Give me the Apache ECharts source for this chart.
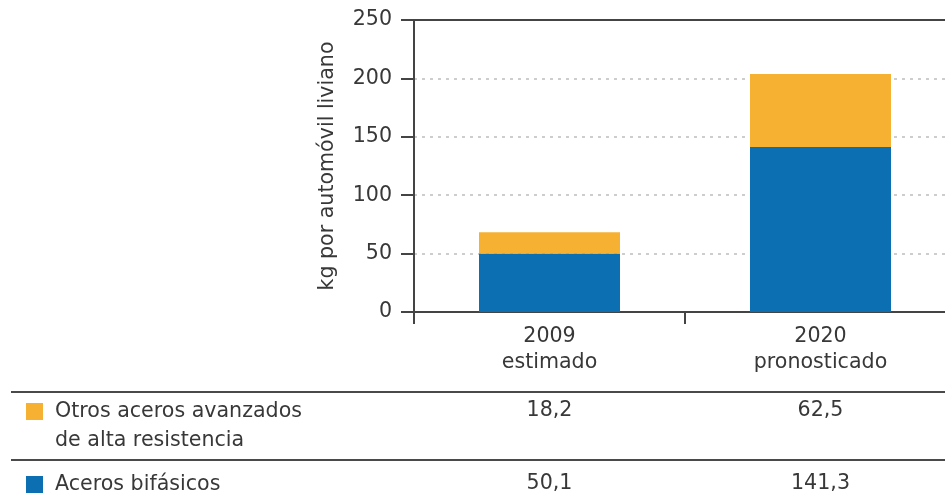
<!DOCTYPE html>
<html>
<head>
<meta charset="utf-8">
<script src="https://cdn.jsdelivr.net/npm/echarts@6/dist/echarts.min.js"></script>
<style>
  html, body { margin: 0; padding: 0; background: #fff; }
  #chart { width: 945px; height: 501px; }
</style>
</head>
<body>
<div id="chart"></div>
<script>
// Acero de alta resistencia por automóvil liviano
const categories = ['2009\nestimado', '2020\npronosticado'];
const bifasicos = [50.1, 141.3];
const otrosAvanzados = [18.2, 62.5];
const seriesNames = ['Aceros bifásicos', 'Otros aceros avanzados\nde alta resistencia'];
const yTicks = [0, 50, 100, 150, 200, 250];

const BLUE = '#0c6fb1';
const ORANGE = '#f6b133';
const INK = '#383838';
const FONT = 'DejaVu Sans, sans-serif';
const FS = 20.6;

const chart = echarts.init(document.getElementById('chart'), null, { renderer: 'canvas' });

const fmt = v => v.toFixed(1).replace('.', ',');

chart.setOption({
  animation: false,
  grid: { left: 414, top: 20, right: -11, bottom: 189, containLabel: false, outerBoundsMode: 'none' },
  xAxis: [{
    type: 'category',
    data: categories,
    axisLine: { lineStyle: { color: '#444', width: 2 } },
    axisTick: { show: true, length: 12, alignWithLabel: false, lineStyle: { color: '#444', width: 2 } },
    axisLabel: { color: INK, fontSize: FS, lineHeight: 26, margin: 12, fontFamily: FONT }
  }, {
    type: 'category',
    data: categories,
    position: 'top',
    axisLine: { show: true, lineStyle: { color: '#444', width: 2 } },
    axisTick: { show: false },
    axisLabel: { show: false }
  }],
  yAxis: {
    type: 'value',
    min: yTicks[0],
    max: yTicks[yTicks.length - 1],
    interval: 50,
    name: 'kg por automóvil liviano',
    nameLocation: 'middle',
    nameGap: 76,
    nameTextStyle: { color: INK, fontSize: FS, fontFamily: FONT },
    axisLine: { show: true, lineStyle: { color: '#444', width: 2 } },
    axisTick: { show: true, length: 13, lineStyle: { color: '#444', width: 2 } },
    axisLabel: { color: INK, fontSize: FS, margin: 22, fontFamily: FONT },
    splitLine: { show: true, lineStyle: { color: '#cdcdcd', width: 2, type: [3, 5] } }
  },
  series: [{
    name: seriesNames[0],
    type: 'bar',
    stack: 'acero',
    data: bifasicos,
    barWidth: 141,
    itemStyle: { color: BLUE }
  }, {
    name: seriesNames[1],
    type: 'bar',
    stack: 'acero',
    data: otrosAvanzados,
    barWidth: 141,
    itemStyle: { color: ORANGE }
  }]
});

// Data table below the chart, with values centred under each category
const cx = categories.map((c, i) => chart.convertToPixel({ xAxisIndex: 0 }, i));
const rows = [
  { name: seriesNames[1], color: ORANGE, values: otrosAvanzados, y: 411 },
  { name: seriesNames[0], color: BLUE, values: bifasicos, y: 484 }
];
const textStyle = { fill: INK, fontSize: FS, fontFamily: FONT };
const graphic = [];
[392, 460].forEach(y => graphic.push({
  type: 'line', shape: { x1: 11, y1: y, x2: 945, y2: y },
  style: { stroke: '#4a4a4a', lineWidth: 2 }
}));
rows.forEach(r => {
  graphic.push({ type: 'rect', shape: { x: 26, y: r.y - 8, width: 17, height: 17 }, style: { fill: r.color } });
  graphic.push({
    type: 'text', x: 55, y: r.y - 14,
    style: Object.assign({ text: r.name, lineHeight: 29, textVerticalAlign: 'top' }, textStyle)
  });
  r.values.forEach((v, i) => graphic.push({
    type: 'text', x: cx[i], y: r.y,
    style: Object.assign({ text: fmt(v), textAlign: 'center', textVerticalAlign: 'middle' }, textStyle)
  }));
});
chart.setOption({ graphic });
</script>
</body>
</html>
